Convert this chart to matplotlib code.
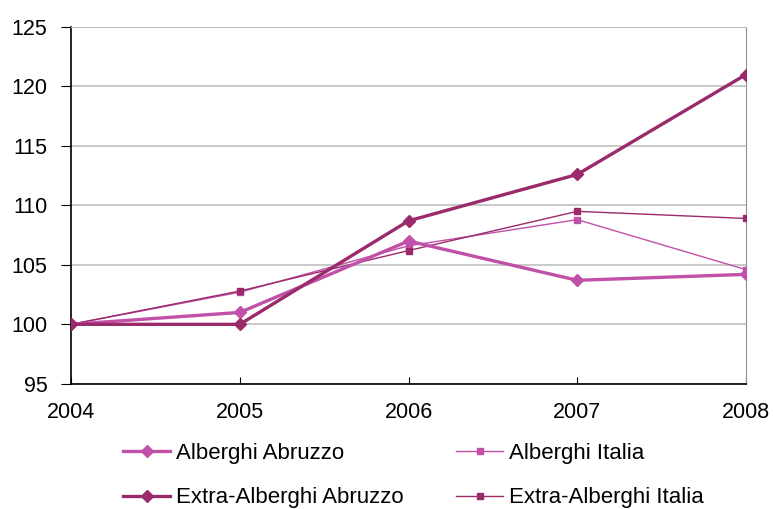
import matplotlib.pyplot as plt

plt.rcParams['font.family'] = ['Liberation Sans', 'DejaVu Sans']

years = [2004, 2005, 2006, 2007, 2008]
alberghi_abruzzo = [100, 101.0, 107.0, 103.7, 104.2]
alberghi_italia = [100, 102.7, 106.6, 108.8, 104.6]
extra_abruzzo = [100, 100.0, 108.7, 112.6, 121.0]
extra_italia = [100, 102.8, 106.2, 109.5, 108.9]

light = '#c050a8'
dark = '#9b2a6b'

fig = plt.figure(figsize=(7.73, 5.09), dpi=100)
ax = fig.add_axes([0.092, 0.246, 0.873, 0.701])

l1, = ax.plot(years, alberghi_abruzzo, color=light, lw=2.4, marker='D', ms=6.5,
              label='Alberghi Abruzzo', zorder=4)
l2, = ax.plot(years, alberghi_italia, color=light, lw=1.0, marker='s', ms=5,
              label='Alberghi Italia', zorder=3)
l3, = ax.plot(years, extra_abruzzo, color=dark, lw=2.4, marker='D', ms=6.5,
              label='Extra-Alberghi Abruzzo', zorder=5)
l4, = ax.plot(years, extra_italia, color=dark, lw=1.0, marker='s', ms=5,
              label='Extra-Alberghi Italia', zorder=3)

ax.set_xlim(2004, 2008)
ax.set_ylim(95, 125)
ax.set_xticks(years)
ax.set_yticks(range(95, 126, 5))
ax.yaxis.grid(True, color='#c0c0c0', lw=1.2)
ax.set_axisbelow(True)
ax.spines['top'].set_color('#c0c0c0')
ax.spines['right'].set_color('#909090')
ax.spines['left'].set_linewidth(1.2)
ax.spines['bottom'].set_linewidth(1.2)
ax.tick_params(axis='x', direction='in', length=5, labelsize=15.5, pad=13)
ax.tick_params(axis='y', direction='out', length=7, labelsize=15.5, pad=10)

fig.legend(handles=[l1, l3, l2, l4], ncol=2, loc='upper left',
           bbox_to_anchor=(0.148, 0.147), frameon=False, fontsize=16,
           handlelength=2.1, handletextpad=0.25, labelspacing=1.05,
           columnspacing=2.4, borderaxespad=0)

fig.savefig('out.png', dpi=100)
